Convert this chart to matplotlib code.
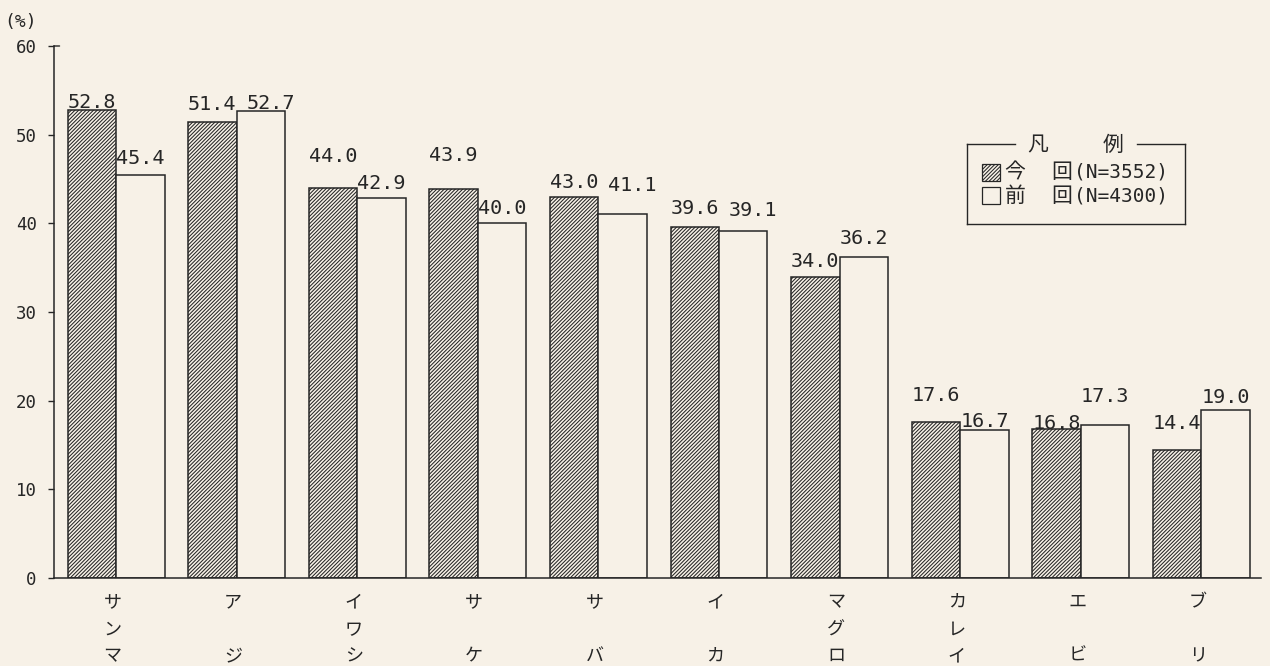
import matplotlib
matplotlib.use("Agg")
import matplotlib.pyplot as plt
from matplotlib.patches import Rectangle
from matplotlib.lines import Line2D
import numpy as np

# ---- data ----
categories = ['サンマ', 'アジ', 'イワシ', 'サケ', 'サバ', 'イカ', 'マグロ', 'カレイ', 'エビ', 'ブリ']
now_values = [52.8, 51.4, 44.0, 43.9, 43.0, 39.6, 34.0, 17.6, 16.8, 14.4]
prev_values = [45.4, 52.7, 42.9, 40.0, 41.1, 39.1, 36.2, 16.7, 17.3, 19.0]
series_names = ['今回', '前回']
series_n = [3552, 4300]
yticks = [0, 10, 20, 30, 40, 50, 60]
unit_label = '(%)'
legend_title = '凡例'

# label placement (pixels): gap of label centre above bar top, horizontal shift
gap_now = [9, 20, 33, 35, 16, 20, 17, 28, 8, 29]
gap_prev = [19, 9, 16, 17, 30, 23, 21, 10, 30, 14]
shift_prev = [0, 10, 0, 0, 10, 10, 0, 0, 0, 0]

BG = '#f7f1e7'
INK = '#262626'
CJK = ['Noto Sans CJK JP', 'DejaVu Sans']
MONO = ['DejaVu Sans Mono']

W, H = 1270, 666
fig = plt.figure(figsize=(W / 100, H / 100), dpi=100, facecolor=BG)
plt.rcParams['hatch.linewidth'] = 0.75

def fx(x):
    return x / W

def fy(y):
    return 1 - y / H

ax_left, ax_right, ax_top, ax_bot = 54, 1261, 46, 578
ax = fig.add_axes([fx(ax_left), fy(ax_bot), (ax_right - ax_left) / W, (ax_bot - ax_top) / H])
ax.set_facecolor(BG)

x = np.arange(len(categories))
spacing_px = 120.6
bw = 48.5 / spacing_px
HATCH = '/////////'

ax.bar(x - bw / 2, now_values, width=bw, facecolor=BG, edgecolor=INK,
       hatch=HATCH, linewidth=1.1, zorder=2)
ax.bar(x + bw / 2, prev_values, width=bw, facecolor=BG, edgecolor=INK,
       linewidth=1.1, zorder=2)

ax.set_xlim((ax_left - 116) / spacing_px, (ax_right - 116) / spacing_px)
ax.set_ylim(0, 60)

for s in ['top', 'right']:
    ax.spines[s].set_visible(False)
for s in ['left', 'bottom']:
    ax.spines[s].set_color(INK)
    ax.spines[s].set_linewidth(1.1)

ax.set_yticks(yticks)
ax.set_yticklabels([str(t) for t in yticks], fontfamily=MONO, fontsize=12.5, color=INK)
ax.tick_params(axis='y', direction='out', length=4.5, width=1.0, color=INK, pad=8)
ax.set_xticks([])

# small inward mark at the top of the axis, as in the original
ax.annotate('', xy=(0, 60), xycoords=('axes fraction', 'data'),
            xytext=(4, 0), textcoords='offset points',
            arrowprops=dict(arrowstyle='-', color=INK, lw=1.0, shrinkA=0, shrinkB=0),
            annotation_clip=False)

# value labels
def put_label(xpos, val, gap_px, dx_px=0):
    ax.annotate(f'{val:.1f}', xy=(xpos, val),
                xytext=(dx_px * 0.72, (gap_px - 7.5) * 0.72),
                textcoords='offset points', ha='center', va='baseline',
                fontfamily=MONO, fontsize=14.5, color=INK, zorder=3)

for i in range(len(categories)):
    put_label(x[i] - bw / 2, now_values[i], gap_now[i])
    put_label(x[i] + bw / 2, prev_values[i], gap_prev[i], shift_prev[i])

# vertical category labels
row_off = [-24, -52, -78]
for i, name in enumerate(categories):
    rows = [0, 1, 2] if len(name) == 3 else [0, 2]
    for ch, r in zip(name, rows):
        ax.annotate(ch, xy=(x[i] - 0.03, 0), xycoords=('data', 'data'),
                    xytext=(0, row_off[r] * 0.72), textcoords='offset points',
                    ha='center', va='center', fontfamily=CJK, fontsize=13,
                    color=INK, annotation_clip=False)

# unit label
fig.text(fx(21), fy(22), unit_label, ha='center', va='center',
         fontfamily=MONO, fontsize=13, color=INK)

# legend (hand drawn, like the original)
lx0, lx1, ly0, ly1 = 967, 1185, 144, 224
lw = 1.0
for seg in [((lx0, 1015), (ly0, ly0)), ((1137, lx1), (ly0, ly0)),
            ((lx0, lx0), (ly0, ly1)), ((lx1, lx1), (ly0, ly1)),
            ((lx0, lx1), (ly1, ly1))]:
    fig.add_artist(Line2D([fx(v) for v in seg[0]], [fy(v) for v in seg[1]],
                          color=INK, linewidth=lw))
fig.text(fx(1038), fy(145), legend_title[0], ha='center', va='center',
         fontfamily=CJK, fontsize=15, color=INK)
fig.text(fx(1113), fy(145), legend_title[1], ha='center', va='center',
         fontfamily=CJK, fontsize=15, color=INK)

rows_y = [172, 196]
hatches = [HATCH, '']
for k, (name, n) in enumerate(zip(series_names, series_n)):
    yc = rows_y[k]
    fig.add_artist(Rectangle((fx(982), fy(yc + 8.5)), 18 / W, 17 / H,
                             transform=fig.transFigure, facecolor=BG,
                             edgecolor=INK, hatch=hatches[k], linewidth=0.9))
    fig.text(fx(1015), fy(yc), name[0], ha='center', va='center',
             fontfamily=CJK, fontsize=15, color=INK)
    fig.text(fx(1062), fy(yc), name[1], ha='center', va='center',
             fontfamily=CJK, fontsize=15, color=INK)
    fig.text(fx(1074), fy(yc), f'(N={n})', ha='left', va='center',
             fontfamily=MONO, fontsize=14, color=INK)

fig.savefig('out.png', dpi=100, facecolor=BG)
